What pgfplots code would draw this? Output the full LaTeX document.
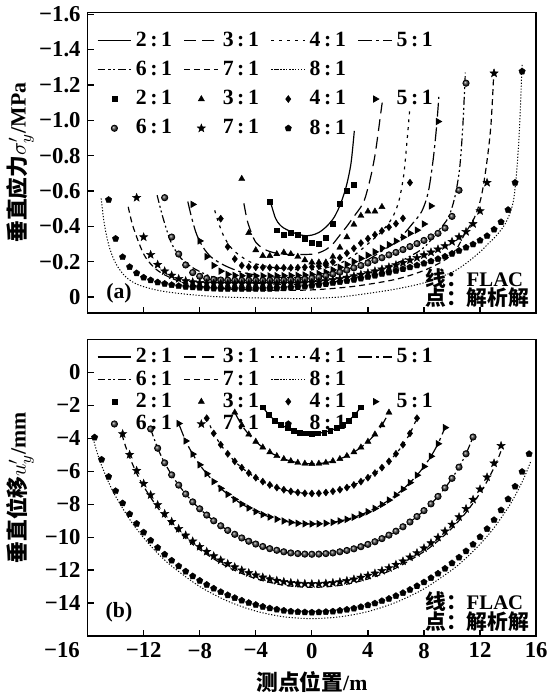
\documentclass[border=0pt]{standalone}
\usepackage{fontspec}
\setmainfont{Liberation Serif}
\newfontfamily\cjk{Noto Sans CJK SC}
\usepackage{pgfplots}
\pgfplotsset{compat=1.18}
\usepackage{pgfplotstable}
\usetikzlibrary{plotmarks}

% filled five-point star
\pgfdeclareplotmark{fstar}{%
  \pgfpathmoveto{\pgfpointpolar{90}{\pgfplotmarksize}}%
  \pgfpathlineto{\pgfpointpolar{126}{0.42\pgfplotmarksize}}%
  \pgfpathlineto{\pgfpointpolar{162}{\pgfplotmarksize}}%
  \pgfpathlineto{\pgfpointpolar{198}{0.42\pgfplotmarksize}}%
  \pgfpathlineto{\pgfpointpolar{234}{\pgfplotmarksize}}%
  \pgfpathlineto{\pgfpointpolar{270}{0.42\pgfplotmarksize}}%
  \pgfpathlineto{\pgfpointpolar{306}{\pgfplotmarksize}}%
  \pgfpathlineto{\pgfpointpolar{342}{0.42\pgfplotmarksize}}%
  \pgfpathlineto{\pgfpointpolar{18}{\pgfplotmarksize}}%
  \pgfpathlineto{\pgfpointpolar{54}{0.42\pgfplotmarksize}}%
  \pgfpathclose\pgfusepathqfillstroke}

% ---------- (a) vertical stress, analytical points ----------
\pgfplotstableread{
x y
-3 -0.54
-2.5 -0.378
-2 -0.35
-1.5 -0.363
-1 -0.354
-0.5 -0.331
0 -0.307
0.5 -0.304
1 -0.335
1.5 -0.415
2 -0.526
2.5 -0.604
3 -0.636
}\tmA
\pgfplotstableread{
x y
-5 -0.669
-4.5 -0.363
-4 -0.265
-3.5 -0.233
-3 -0.233
-2.5 -0.243
-2 -0.252
-1.5 -0.243
-1 -0.228
-0.5 -0.209
0 -0.196
0.5 -0.196
1 -0.196
1.5 -0.228
2 -0.28
2.5 -0.339
3 -0.41
3.5 -0.46
4 -0.484
4.5 -0.484
5 -0.51
}\tmB
\pgfplotstableread{
x y
-6.5 -0.443
-6 -0.284
-5.5 -0.215
-5 -0.178
-4.5 -0.17
-4 -0.168
-3.5 -0.167
-3 -0.166
-2.5 -0.165
-2 -0.165
-1.5 -0.165
-1 -0.166
-0.5 -0.168
0 -0.17
0.5 -0.174
1 -0.18
1.5 -0.198
2 -0.222
2.5 -0.248
3 -0.275
3.5 -0.305
4 -0.33
4.5 -0.352
5 -0.374
5.5 -0.395
6 -0.415
6.5 -0.445
7 -0.647
}\tmC
\pgfplotstableread{
x y
-8.5 -0.524
-8 -0.317
-7.5 -0.228
-7 -0.178
-6.5 -0.146
-6 -0.128
-5.5 -0.122
-5 -0.12
-4.5 -0.119
-4 -0.119
-3.5 -0.119
-3 -0.119
-2.5 -0.12
-2 -0.12
-1.5 -0.121
-1 -0.122
-0.5 -0.124
0 -0.127
0.5 -0.132
1 -0.14
1.5 -0.153
2 -0.168
2.5 -0.184
3 -0.2
3.5 -0.218
4 -0.236
4.5 -0.255
5 -0.276
5.5 -0.296
6 -0.316
6.5 -0.338
7 -0.36
7.5 -0.378
8 -0.413
8.5 -0.515
9 -0.993
}\tmD
\pgfplotstableread{
x y
-10.5 -0.562
-10 -0.339
-9.5 -0.243
-9 -0.181
-8.5 -0.138
-8 -0.117
-7.5 -0.105
-7 -0.099
-6.5 -0.096
-6 -0.095
-5.5 -0.094
-5 -0.094
-4.5 -0.094
-4 -0.094
-3.5 -0.094
-3 -0.094
-2.5 -0.094
-2 -0.095
-1.5 -0.096
-1 -0.098
-0.5 -0.101
0 -0.106
0.5 -0.112
1 -0.12
1.5 -0.13
2 -0.14
2.5 -0.152
3 -0.165
3.5 -0.178
4 -0.192
4.5 -0.207
5 -0.222
5.5 -0.238
6 -0.252
6.5 -0.268
7 -0.285
7.5 -0.302
8 -0.32
8.5 -0.34
9 -0.36
9.5 -0.39
10 -0.456
10.5 -0.604
11 -1.21
}\tmE
\pgfplotstableread{
x y
-12.5 -0.562
-12 -0.339
-11.5 -0.239
-11 -0.183
-10.5 -0.146
-10 -0.122
-9.5 -0.103
-9 -0.091
-8.5 -0.084
-8 -0.08
-7.5 -0.078
-7 -0.077
-6.5 -0.076
-6 -0.076
-5.5 -0.076
-5 -0.076
-4.5 -0.076
-4 -0.076
-3.5 -0.076
-3 -0.076
-2.5 -0.076
-2 -0.076
-1.5 -0.077
-1 -0.077
-0.5 -0.079
0 -0.082
0.5 -0.086
1 -0.091
1.5 -0.097
2 -0.103
2.5 -0.11
3 -0.118
3.5 -0.127
4 -0.136
4.5 -0.146
5 -0.157
5.5 -0.169
6 -0.181
6.5 -0.194
7 -0.208
7.5 -0.222
8 -0.237
8.5 -0.253
9 -0.27
9.5 -0.289
10 -0.313
10.5 -0.339
11 -0.369
11.5 -0.414
12 -0.487
12.5 -0.647
13 -1.266
}\tmF
\pgfplotstableread{
x y
-14.5 -0.55
-14 -0.33
-13.5 -0.226
-13 -0.17
-12.5 -0.135
-12 -0.11
-11.5 -0.095
-11 -0.083
-10.5 -0.075
-10 -0.068
-9.5 -0.062
-9 -0.058
-8.5 -0.055
-8 -0.052
-7.5 -0.05
-7 -0.048
-6.5 -0.047
-6 -0.046
-5.5 -0.046
-5 -0.046
-4.5 -0.046
-4 -0.046
-3.5 -0.046
-3 -0.047
-2.5 -0.048
-2 -0.05
-1.5 -0.053
-1 -0.056
-0.5 -0.059
0 -0.063
0.5 -0.068
1 -0.073
1.5 -0.079
2 -0.085
2.5 -0.091
3 -0.098
3.5 -0.105
4 -0.113
4.5 -0.121
5 -0.13
5.5 -0.139
6 -0.148
6.5 -0.158
7 -0.168
7.5 -0.179
8 -0.19
8.5 -0.202
9 -0.215
9.5 -0.229
10 -0.245
10.5 -0.262
11 -0.28
11.5 -0.298
12 -0.32
12.5 -0.345
13 -0.382
13.5 -0.424
14 -0.493
14.5 -0.647
15 -1.277
}\tmG

% ---------- (a) vertical stress, FLAC ----------
\pgfplotstableread{
x y
-2.96 -0.54
-2.6 -0.447
-2.3 -0.41
-2 -0.39
-1.5 -0.37
-1 -0.355
-0.5 -0.347
0 -0.35
0.5 -0.365
1 -0.395
1.5 -0.44
1.85 -0.49
2.2 -0.56
2.5 -0.64
2.8 -0.76
3.03 -0.94
}\tlA
\pgfplotstableread{
x y
-4.85 -0.53
-4.6 -0.43
-4.3 -0.36
-4 -0.31
-3.5 -0.275
-3 -0.257
-2.5 -0.247
-2 -0.242
-1 -0.24
0 -0.242
0.5 -0.25
1 -0.268
1.5 -0.3
2 -0.35
2.5 -0.4
3 -0.455
3.5 -0.51
3.8 -0.56
4.2 -0.68
4.5 -0.8
4.7 -0.91
4.9 -1.03
5.02 -1.1
}\tlB
\pgfplotstableread{
x y
-6.93 -0.49
-6.69 -0.428
-6.34 -0.354
-5.87 -0.289
-5.28 -0.243
-4.34 -0.196
-3 -0.17
-2 -0.16
-1 -0.155
0 -0.155
1 -0.165
2 -0.19
3 -0.235
4 -0.3
4.5 -0.335
5.02 -0.373
5.73 -0.447
6.2 -0.54
6.55 -0.687
6.78 -0.873
7 -1.077
}\tlC
\pgfplotstableread{
x y
-8.85 -0.54
-8.57 -0.447
-8.22 -0.354
-7.75 -0.28
-7.16 -0.224
-6.22 -0.178
-5.05 -0.141
-4 -0.125
-3 -0.115
-2 -0.11
-1 -0.11
0 -0.112
1 -0.12
2 -0.14
3 -0.17
4 -0.21
5 -0.26
6 -0.31
6.6 -0.36
7.13 -0.41
7.84 -0.484
8.31 -0.595
8.66 -0.78
8.9 -0.966
9.06 -1.132
}\tlD
\pgfplotstableread{
x y
-11.04 -0.576
-10.68 -0.465
-10.33 -0.373
-9.98 -0.298
-9.39 -0.224
-8.57 -0.169
-7.39 -0.122
-6 -0.095
-4 -0.078
-2 -0.072
0 -0.075
2 -0.09
4 -0.13
6 -0.19
7 -0.23
8 -0.28
9.01 -0.373
9.72 -0.447
10.18 -0.558
10.54 -0.725
10.77 -0.966
10.95 -1.27
}\tlE
\pgfplotstableread{
x y
-13.1 -0.51
-12.8 -0.41
-12.3 -0.298
-11.86 -0.224
-11.15 -0.159
-10.2 -0.113
-8.57 -0.067
-6 -0.045
-3 -0.038
0 -0.04
3 -0.06
6 -0.1
8 -0.15
9.5 -0.21
10.3 -0.27
10.89 -0.354
11.59 -0.447
12.06 -0.558
12.42 -0.725
12.77 -0.966
13 -1.3
}\tlF
\pgfplotstableread{
x y
-15.03 -0.558
-14.8 -0.41
-14.44 -0.28
-13.97 -0.187
-13.27 -0.113
-12.32 -0.067
-10.45 -0.03
-6.93 -0.002
-2.23 0.008
0 0.008
2 0.0
4 -0.02
6 -0.045
8 -0.08
10 -0.14
11 -0.19
12 -0.255
12.54 -0.298
13.24 -0.354
13.9 -0.43
14.41 -0.558
14.76 -0.873
15 -1.32
}\tlG

% ---------- (b) vertical displacement, analytical points ----------
\pgfplotstableread{
x y
-3.5 -2.11
-3.06 -2.57
-2.63 -2.92
-2.19 -3.18
-1.75 -3.38
-1.31 -3.53
-0.88 -3.63
-0.44 -3.69
0 -3.71
0.44 -3.69
0.88 -3.63
1.31 -3.53
1.75 -3.38
2.19 -3.18
2.63 -2.92
3.06 -2.57
3.5 -2.11
}\bmA
\pgfplotstableread{
x y
-5.5 -2.43
-5 -3.20
-4.5 -3.76
-4 -4.20
-3.5 -4.55
-3 -4.84
-2.5 -5.07
-2 -5.25
-1.5 -5.38
-1 -5.48
-0.5 -5.53
0 -5.55
0.5 -5.53
1 -5.48
1.5 -5.38
2 -5.25
2.5 -5.07
3 -4.84
3.5 -4.55
4 -4.20
4.5 -3.76
5 -3.20
5.5 -2.43
}\bmB
\pgfplotstableread{
x y
-7.5 -2.78
-7 -3.70
-6.5 -4.39
-6 -4.94
-5.5 -5.40
-5 -5.78
-4.5 -6.11
-4 -6.39
-3.5 -6.63
-3 -6.83
-2.5 -6.99
-2 -7.12
-1.5 -7.22
-1 -7.29
-0.5 -7.34
0 -7.35
0.5 -7.34
1 -7.29
1.5 -7.22
2 -7.12
2.5 -6.99
3 -6.83
3.5 -6.63
4 -6.39
4.5 -6.11
5 -5.78
5.5 -5.40
6 -4.94
6.5 -4.39
7 -3.70
7.5 -2.78
}\bmC
\pgfplotstableread{
x y
-9.5 -3.10
-9 -4.16
-8.5 -4.96
-8 -5.61
-7.5 -6.15
-7 -6.63
-6.5 -7.04
-6 -7.40
-5.5 -7.71
-5 -7.99
-4.5 -8.23
-4 -8.45
-3.5 -8.63
-3 -8.78
-2.5 -8.91
-2 -9.02
-1.5 -9.10
-1 -9.16
-0.5 -9.19
0 -9.20
0.5 -9.19
1 -9.16
1.5 -9.10
2 -9.02
2.5 -8.92
3 -8.79
3.5 -8.64
4 -8.46
4.5 -8.26
5 -8.02
5.5 -7.75
6 -7.44
6.5 -7.09
7 -6.69
7.5 -6.24
8 -5.71
8.5 -5.09
9 -4.33
9.5 -3.35
}\bmD
\pgfplotstableread{
x y
-11.5 -3.43
-11 -4.60
-10.5 -5.49
-10 -6.22
-9.5 -6.84
-9 -7.38
-8.5 -7.86
-8 -8.28
-7.5 -8.66
-7 -9.01
-6.5 -9.31
-6 -9.59
-5.5 -9.83
-5 -10.05
-4.5 -10.25
-4 -10.42
-3.5 -10.57
-3 -10.70
-2.5 -10.80
-2 -10.89
-1.5 -10.96
-1 -11.00
-0.5 -11.03
0 -11.04
0.5 -11.03
1 -11.00
1.5 -10.96
2 -10.89
2.5 -10.81
3 -10.71
3.5 -10.58
4 -10.44
4.5 -10.28
5 -10.09
5.5 -9.88
6 -9.64
6.5 -9.37
7 -9.08
7.5 -8.75
8 -8.39
8.5 -7.98
9 -7.53
9.5 -7.01
10 -6.43
10.5 -5.75
11 -4.94
11.5 -3.92
}\bmE
\pgfplotstableread{
x y
-13.5 -3.73
-13 -4.99
-12.5 -5.96
-12 -6.75
-11.5 -7.44
-11 -8.04
-10.5 -8.58
-10 -9.06
-9.5 -9.49
-9 -9.89
-8.5 -10.25
-8 -10.58
-7.5 -10.88
-7 -11.15
-6.5 -11.40
-6 -11.62
-5.5 -11.82
-5 -12.01
-4.5 -12.17
-4 -12.31
-3.5 -12.44
-3 -12.55
-2.5 -12.64
-2 -12.71
-1.5 -12.77
-1 -12.81
-0.5 -12.83
0 -12.84
0.5 -12.83
1 -12.81
1.5 -12.77
2 -12.72
2.5 -12.65
3 -12.56
3.5 -12.45
4 -12.33
4.5 -12.20
5 -12.04
5.5 -11.87
6 -11.67
6.5 -11.46
7 -11.22
7.5 -10.96
8 -10.67
8.5 -10.36
9 -10.02
9.5 -9.64
10 -9.23
10.5 -8.78
11 -8.28
11.5 -7.72
12 -7.09
12.5 -6.36
13 -5.51
13.5 -4.45
}\bmF
\pgfplotstableread{
x y
-15.5 -3.94
-15 -5.29
-14.5 -6.33
-14 -7.20
-13.5 -7.94
-13 -8.60
-12.5 -9.18
-12 -9.71
-11.5 -10.20
-11 -10.64
-10.5 -11.05
-10 -11.42
-9.5 -11.76
-9 -12.08
-8.5 -12.37
-8 -12.64
-7.5 -12.89
-7 -13.12
-6.5 -13.33
-6 -13.52
-5.5 -13.69
-5 -13.85
-4.5 -13.99
-4 -14.11
-3.5 -14.22
-3 -14.32
-2.5 -14.39
-2 -14.46
-1.5 -14.51
-1 -14.54
-0.5 -14.56
0 -14.57
0.5 -14.56
1 -14.54
1.5 -14.51
2 -14.46
2.5 -14.40
3 -14.33
3.5 -14.24
4 -14.13
4.5 -14.02
5 -13.88
5.5 -13.74
6 -13.57
6.5 -13.39
7 -13.19
7.5 -12.97
8 -12.74
8.5 -12.48
9 -12.21
9.5 -11.91
10 -11.58
10.5 -11.23
11 -10.85
11.5 -10.44
12 -9.99
12.5 -9.50
13 -8.96
13.5 -8.36
14 -7.69
14.5 -6.92
15 -6.03
15.5 -4.95
}\bmG

% ---------- (b) FLAC, 7:1 and 8:1 (the others lie on the points) ----------
\pgfplotstableread{
x y
-13.55 -3.76
-13.3 -4.46
-13 -5.15
-12.5 -6.12
-12 -6.92
-11 -8.21
-10 -9.23
-9 -10.07
-8 -10.76
-6 -11.82
-4 -12.52
-2 -12.92
0 -13.05
2 -12.93
4 -12.54
6 -11.88
8 -10.88
9 -10.23
10 -9.45
11 -8.50
12 -7.33
12.5 -6.61
13 -5.78
13.3 -5.20
13.55 -4.65
}\blF
\pgfplotstableread{
x y
-15.6 -4.03
-15.3 -4.91
-15 -5.65
-14.5 -6.67
-14 -7.52
-13 -8.92
-12 -10.04
-11 -10.98
-10 -11.76
-8 -13.00
-6 -13.89
-4 -14.49
-2 -14.84
0 -14.95
2 -14.84
4 -14.52
6 -13.96
8 -13.14
10 -11.99
11 -11.27
12 -10.43
13 -9.43
14 -8.21
14.5 -7.48
15 -6.65
15.3 -6.08
15.6 -5.44
}\blG

\pgfplotsset{
  panel/.style={
    scale only axis, width=227pt,
    xmin=-16, xmax=16,
    xtick={-12,-8,-4,0,4,8,12,16},
    tick align=inside, xtick pos=bottom, ytick pos=left,
    major tick length=3pt,
    axis line style={line width=0.9pt},
    every tick/.style={black, line width=0.6pt},
    tick label style={font=\fontsize{11.5}{12}\selectfont\bfseries},
    every axis y label/.style={at={(axis description cs:-0.15,0.5)}, rotate=90, anchor=center},
    every axis x label/.style={at={(axis description cs:0.5,-0.155)}, anchor=center},
    label style={font=\fontsize{11}{12}\selectfont\bfseries},
    legend columns=4,
    legend cell align=left,
    legend style={draw=none, fill=none, anchor=north west, inner sep=0pt,
      font=\fontsize{11}{11}\selectfont\bfseries,
      /tikz/every even column/.append style={column sep=4pt}},
  },
  l2/.style={black, line width=0.6pt},
  l3/.style={black, line width=0.6pt, dash pattern=on 6pt off 3pt},
  l4/.style={black, line width=0.6pt, dash pattern=on 1.5pt off 2.5pt},
  l5/.style={black, line width=0.6pt, dash pattern=on 7pt off 2pt on 1.5pt off 2pt},
  l6/.style={black, line width=0.6pt, dash pattern=on 4pt off 1.5pt on 1pt off 1.5pt on 1pt off 1.5pt},
  l7/.style={black, line width=0.6pt, dash pattern=on 3pt off 2pt},
  l8/.style={black, line width=0.5pt, dash pattern=on 0.6pt off 0.9pt},
  mk/.style={black, only marks, mark options={solid, fill=black, line width=0.2pt}},
  m2/.style={mk, mark=square*, mark size=1.25pt},
  m3/.style={mk, mark=triangle*, mark size=1.8pt},
  m4/.style={mk, mark=diamond*, mark size=1.8pt},
  m5/.style={mk, mark=triangle*, mark size=1.8pt, mark options={rotate=-90}},
  m6/.style={mk, mark=ball, mark size=1.6pt, mark options={ball color=black!75}},
  m7/.style={mk, mark=fstar, mark size=2.2pt},
  m8/.style={mk, mark=pentagon*, mark size=1.7pt},
}

\begin{document}
\begin{tikzpicture}
% ===== (a) =====
\begin{axis}[panel, at={(0,0)}, anchor=south west, height=152pt,
  y dir=reverse, ymin=-1.61, ymax=0.09,
  ytick={-1.6,-1.4,-1.2,-1,-0.8,-0.6,-0.4,-0.2,0},
  yticklabels={−1.6,−1.4,−1.2,−1.0,−0.8,−0.6,−0.4,−0.2,0},
  xticklabels={},
  ylabel={{\cjk 垂直应力}$\sigma_y'$/MPa},
  legend style={at={(0.02,0.95)}, row sep=2pt},
]
\addplot[l2, smooth] table {\tlA}; \addlegendentry{2\,:\,1}
\addplot[l3, smooth] table {\tlB}; \addlegendentry{3\,:\,1}
\addplot[l4, smooth] table {\tlC}; \addlegendentry{4\,:\,1}
\addplot[l5, smooth] table {\tlD}; \addlegendentry{5\,:\,1}
\addplot[l6, smooth] table {\tlE}; \addlegendentry{6\,:\,1}
\addplot[l7, smooth] table {\tlF}; \addlegendentry{7\,:\,1}
\addplot[l8, smooth] table {\tlG}; \addlegendentry{8\,:\,1}
\addlegendimage{empty legend}\addlegendentry{}
\addplot[m2] table {\tmA}; \addlegendentry{2\,:\,1}
\addplot[m3] table {\tmB}; \addlegendentry{3\,:\,1}
\addplot[m4] table {\tmC}; \addlegendentry{4\,:\,1}
\addplot[m5] table {\tmD}; \addlegendentry{5\,:\,1}
\addplot[m6] table {\tmE}; \addlegendentry{6\,:\,1}
\addplot[m7] table {\tmF}; \addlegendentry{7\,:\,1}
\addplot[m8] table {\tmG}; \addlegendentry{8\,:\,1}
\node[font=\fontsize{11}{12}\selectfont\bfseries, anchor=center] at (axis description cs:0.07,0.065) {(a)};
\node[font=\fontsize{10.5}{10}\selectfont\bfseries, align=left, anchor=south east, inner sep=0pt]
  at (axis description cs:0.985,0.015) {{\cjk 线：}FLAC\\{\cjk 点：解析解}};
\end{axis}

% ===== (b) =====
\begin{axis}[panel, at={(0,-13.5pt)}, anchor=north west, height=150pt,
  ymin=-16, ymax=2,
  ytick={-14,-12,-10,-8,-6,-4,-2,0},
  yticklabels={−14,−12,−10,−8,−6,−4,−2,0},
  xticklabels={−12,−8,−4,0,4,8,12,16},
  extra x ticks={-16}, extra x tick labels={−16},
  extra x tick style={tick label style={xshift=-13pt}},
  ylabel={{\cjk 垂直位移}$u_y'$/mm},
  xlabel={{\cjk 测点位置}/m},
  legend style={at={(0.02,0.985)}, row sep=-1.5pt},
]
\addplot[l2, smooth] table {\bmA}; \addlegendentry{2\,:\,1}
\addplot[l3, smooth] table {\bmB}; \addlegendentry{3\,:\,1}
\addplot[l4, smooth] table {\bmC}; \addlegendentry{4\,:\,1}
\addplot[l5, smooth] table {\bmD}; \addlegendentry{5\,:\,1}
\addplot[l6, smooth] table {\bmE}; \addlegendentry{6\,:\,1}
\addplot[l7, smooth] table {\blF}; \addlegendentry{7\,:\,1}
\addplot[l8, smooth] table {\blG}; \addlegendentry{8\,:\,1}
\addlegendimage{empty legend}\addlegendentry{}
\addplot[m2] table {\bmA}; \addlegendentry{2\,:\,1}
\addplot[m3] table {\bmB}; \addlegendentry{3\,:\,1}
\addplot[m4] table {\bmC}; \addlegendentry{4\,:\,1}
\addplot[m5] table {\bmD}; \addlegendentry{5\,:\,1}
\addplot[m6] table {\bmE}; \addlegendentry{6\,:\,1}
\addplot[m7] table {\bmF}; \addlegendentry{7\,:\,1}
\addplot[m8] table {\bmG}; \addlegendentry{8\,:\,1}
\node[font=\fontsize{11}{12}\selectfont\bfseries, anchor=center] at (axis description cs:0.07,0.08) {(b)};
\node[font=\fontsize{10.5}{10}\selectfont\bfseries, align=left, anchor=south east, inner sep=0pt]
  at (axis description cs:0.985,0.015) {{\cjk 线：}FLAC\\{\cjk 点：解析解}};
\end{axis}
\end{tikzpicture}
\end{document}
